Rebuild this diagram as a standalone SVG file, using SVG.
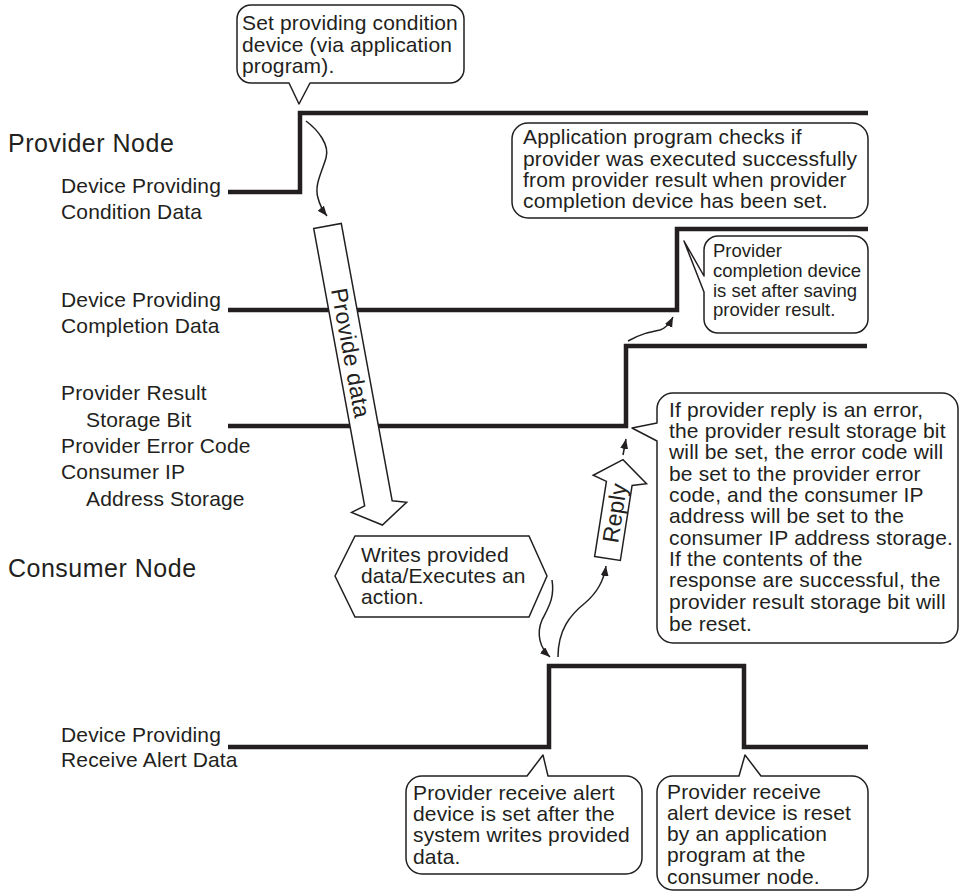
<svg xmlns="http://www.w3.org/2000/svg" width="960" height="892" viewBox="0 0 960 892">
  <style>
    text { font-family: "Liberation Sans", Arial, Helvetica, sans-serif; fill: #231f20; }
    .title { font-size: 25px; letter-spacing: 0.5px; }
    .lbl { font-size: 21px; letter-spacing: 0.15px; }
    .sm { font-size: 18.5px; letter-spacing: 0px; }
    .big { font-size: 23px; letter-spacing: 0.2px; }
    .signal { fill: none; stroke: #231f20; stroke-width: 4.5; stroke-linejoin: miter; }
    .bubble { fill: #fff; stroke: #231f20; stroke-width: 1.5; stroke-linejoin: round; }
    .flow { fill: #fff; stroke: #231f20; stroke-width: 1.5; stroke-linejoin: miter; }
    .wire { fill: none; stroke: #231f20; stroke-width: 1.5; }
  </style>
  <defs>
    <marker id="tip" markerUnits="userSpaceOnUse" markerWidth="12" markerHeight="10" refX="10" refY="4" orient="auto">
      <path d="M0,0 L10,4 L0,8 Z" fill="#231f20"/>
    </marker>
  </defs>
  <rect width="960" height="892" fill="#fff"/>

  <!-- section titles and signal names -->
  <g id="labels">
    <text class="title" x="8" y="152">Provider Node</text>
    <text class="title" x="8" y="577">Consumer Node</text>
    <text class="lbl" x="61" y="193">Device Providing</text>
    <text class="lbl" x="61" y="219">Condition Data</text>
    <text class="lbl" x="61" y="307">Device Providing</text>
    <text class="lbl" x="61" y="333">Completion Data</text>
    <text class="lbl" x="61" y="400">Provider Result</text>
    <text class="lbl" x="86" y="427">Storage Bit</text>
    <text class="lbl" x="61" y="453">Provider Error Code</text>
    <text class="lbl" x="61" y="479">Consumer IP</text>
    <text class="lbl" x="86" y="506">Address Storage</text>
    <text class="lbl" x="61" y="742">Device Providing</text>
    <text class="lbl" x="61" y="767">Receive Alert Data</text>
  </g>

  <!-- timing traces -->
  <g id="signals">
    <polyline id="sig-condition" class="signal" points="228,192 300,192 300,113 868,113"/>
    <polyline id="sig-completion" class="signal" points="228,310 677,310 677,229 868,229"/>
    <polyline id="sig-result" class="signal" points="228,426 626,426 626,346 867,346"/>
    <polyline id="sig-alert" class="signal" points="228,747 549,747 549,666 744,666 744,747 868,747"/>
  </g>

  <!-- block arrows -->
  <g id="provide-data" transform="translate(327.5,226) rotate(-10.4)">
    <path class="flow" d="M-14,0 L14,0 L14,282 L28,286 L0,304 L-28,286 L-14,282 Z"/>
    <text class="big" transform="translate(-8,129) rotate(90)" text-anchor="middle">Provide data</text>
  </g>
  <g id="reply" transform="translate(607.5,558.5) rotate(8.9)">
    <path class="flow" d="M-13,0 L13,0 L13,-76 L27,-80 L0,-100 L-27,-80 L-13,-76 Z"/>
    <text class="big" transform="translate(8,-46) rotate(-90)" text-anchor="middle">Reply</text>
  </g>

  <!-- thin flow connectors -->
  <g id="connectors">
    <path class="wire" marker-end="url(#tip)" d="M306,121 C318,130 330,145 326,158 C322,172 314,185 318,198 C320,206 323,211 327,216"/>
    <path class="wire" marker-end="url(#tip)" d="M552,580 C555,598 548,608 542,620 C536,634 540,648 550,657"/>
    <path class="wire" marker-end="url(#tip)" d="M558,657 C558,630 570,615 585,603 C598,592 604,580 606,566"/>
    <path class="wire" marker-end="url(#tip)" d="M623,455 L626,439"/>
    <path class="wire" marker-end="url(#tip)" d="M628,341 C640,334 650,332 660,330 C666,328 670,323 673,317"/>
  </g>

  <!-- callouts -->
  <g id="note-set-condition">
    <path class="bubble" d="M251,5 H450 A14,14 0 0 1 464,19 V69 A14,14 0 0 1 450,83 H310 L299,104 L289,83 H251 A14,14 0 0 1 237,69 V19 A14,14 0 0 1 251,5 Z"/>
    <text class="lbl" x="242" y="30">Set providing condition</text>
    <text class="lbl" x="242" y="52">device (via application</text>
    <text class="lbl" x="242" y="73">program).</text>
  </g>

  <g id="note-check-result">
    <rect class="bubble" x="512" y="123" width="356" height="95" rx="16"/>
    <text class="lbl" x="523" y="144">Application program checks if</text>
    <text class="lbl" x="523" y="166">provider was executed successfully</text>
    <text class="lbl" x="523" y="187">from provider result when provider</text>
    <text class="lbl" x="523" y="208">completion device has been set.</text>
  </g>

  <g id="note-completion">
    <path class="bubble" d="M718,236 H854 A14,14 0 0 1 868,250 V319 A14,14 0 0 1 854,333 H718 A14,14 0 0 1 704,319 V292 L684,241 L704,276 V250 A14,14 0 0 1 718,236 Z"/>
    <text class="sm" x="713" y="257">Provider</text>
    <text class="sm" x="713" y="277">completion device</text>
    <text class="sm" x="713" y="297">is set after saving</text>
    <text class="sm" x="713" y="316">provider result.</text>
  </g>

  <g id="note-error">
    <path class="bubble" d="M673,393 H942 A16,16 0 0 1 958,409 V627 A16,16 0 0 1 942,643 H673 A16,16 0 0 1 657,627 V441 L632,428 L657,423 V409 A16,16 0 0 1 673,393 Z"/>
    <text class="lbl" x="669" y="417">If provider reply is an error,</text>
    <text class="lbl" x="669" y="438">the provider result storage bit</text>
    <text class="lbl" x="669" y="459">will be set, the error code will</text>
    <text class="lbl" x="669" y="481">be set to the provider error</text>
    <text class="lbl" x="669" y="502">code, and the consumer IP</text>
    <text class="lbl" x="669" y="523">address will be set to the</text>
    <text class="lbl" x="669" y="545">consumer IP address storage.</text>
    <text class="lbl" x="669" y="566">If the contents of the</text>
    <text class="lbl" x="669" y="587">response are successful, the</text>
    <text class="lbl" x="669" y="609">provider result storage bit will</text>
    <text class="lbl" x="669" y="631">be reset.</text>
  </g>

  <g id="note-write">
    <polygon class="flow" points="335,576 355,536 529,536 547,576 529,617 355,617"/>
    <text class="lbl" x="361" y="562">Writes provided</text>
    <text class="lbl" x="361" y="583">data/Executes an</text>
    <text class="lbl" x="361" y="604">action.</text>
  </g>

  <g id="note-alert-set">
    <path class="bubble" d="M422,776 H527 L543,755 L548,776 H626 A16,16 0 0 1 642,792 V858 A16,16 0 0 1 626,874 H422 A16,16 0 0 1 406,858 V792 A16,16 0 0 1 422,776 Z"/>
    <text class="lbl" x="413" y="800">Provider receive alert</text>
    <text class="lbl" x="413" y="821">device is set after the</text>
    <text class="lbl" x="413" y="842">system writes provided</text>
    <text class="lbl" x="413" y="864">data.</text>
  </g>

  <g id="note-alert-reset">
    <path class="bubble" d="M673,776 H739 L745,755 L761,776 H852 A16,16 0 0 1 868,792 V874 A16,16 0 0 1 852,890 H673 A16,16 0 0 1 657,874 V792 A16,16 0 0 1 673,776 Z"/>
    <text class="lbl" x="667" y="799">Provider receive</text>
    <text class="lbl" x="667" y="820">alert device is reset</text>
    <text class="lbl" x="667" y="841">by an application</text>
    <text class="lbl" x="667" y="862">program at the</text>
    <text class="lbl" x="667" y="884">consumer node.</text>
  </g>
</svg>
